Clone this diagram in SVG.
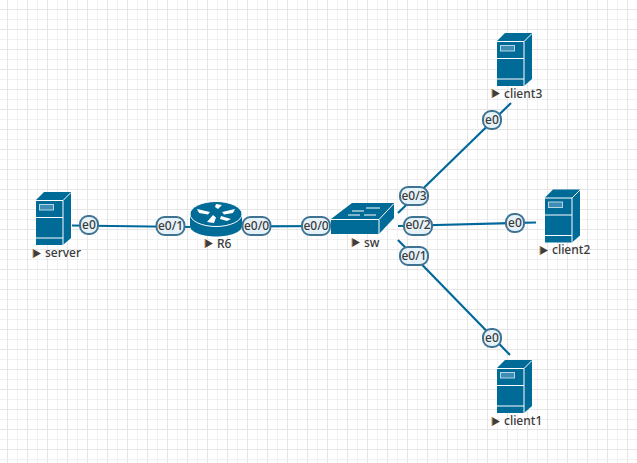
<svg xmlns="http://www.w3.org/2000/svg" width="637" height="463" viewBox="0 0 637 463">
<style>
text{font-family:"Noto Sans","Open Sans","Liberation Sans",sans-serif;font-size:12px;font-weight:500;fill:#3a3a3a}
.b{fill:#006b96}
.w{stroke:#fff;stroke-width:1;fill:none}
.lk{stroke:#00689a;stroke-width:2.2;fill:none}
.pill{fill:#e6f2f9;stroke:#3f7391;stroke-width:2}
.pt{text-anchor:middle}
.tri{fill:#3a3f44}
.or{stroke:#e8963c;stroke-width:1}
</style>
<defs>
<pattern id="g" width="10" height="10" patternUnits="userSpaceOnUse" x="7" y="9">
<path d="M0.5 0V10M0 0.5H10" stroke="#f1f1f1" stroke-width="1" fill="none"/>
</pattern>
<pattern id="G" width="20" height="20" patternUnits="userSpaceOnUse" x="7" y="9">
<path d="M0.5 0V20M0 0.5H20" stroke="#e6e6e6" stroke-width="1" fill="none"/>
</pattern>
<g id="srv">
<path class="b" d="M0 8L8 0H35V46L27 53H0Z"/>
<path class="w" d="M0 8.5H27V53M27 8.5L35 0.5M0 25.5H27M0 46H27"/>
<rect x="3.5" y="12.5" width="14" height="5.5" fill="#3d8db4" stroke="#b5d6e6" stroke-width="1"/>
</g>
<path id="mk" class="tri" d="M0 0L8 4.5L0 9Z"/>
</defs>
<rect width="637" height="463" fill="#fff"/>
<rect width="637" height="463" fill="url(#g)"/>
<rect width="637" height="463" fill="url(#G)"/>
<g id="connectors">
<path class="lk" d="M72 225.5L190 227"/>
<path class="lk" d="M242 226.500L331 226"/>
<path class="lk" d="M398 213L511 103"/>
<path class="lk" d="M398 226L536 222.500"/>
<path class="lk" d="M398 240L510 355"/>
</g>
<g id="server"><use href="#srv" x="36" y="192"/><use href="#mk" x="33" y="249"/><path class="or" d="M33 249V258"/><text x="45" y="257">server</text></g>
<g id="R6">
<path class="b" d="M190 214V226C190 232 202 236.500 216 236.500C230 236.500 242 232 242 226V214Z"/>
<ellipse cx="216" cy="214" rx="26" ry="12.500" class="b" stroke="#fff" stroke-width="1"/>
<path fill="#fff" d="M197 209L210 212L208 214.500L199 213ZM235 209L222 212L224 214.500L233 213ZM222 205L218 209L215 207L216 204ZM207 222L213 215L216 217.500L214 223Z"/>
<path fill="#fff" d="M221 216L231 219L227 221L220 219Z"/>
<use href="#mk" x="205" y="239"/><path class="or" d="M205 239V248"/><text x="217" y="248">R6</text>
</g>
<g id="sw">
<path class="b" d="M331 219L352 203H394V218L379 234H331Z"/>
<path class="w" d="M331 219.500H379V234M379 219.500L394 203.500"/>
<path fill="none" stroke="#fff" stroke-width="1.200" d="M352 211H364M366 208H380M348 215H360M364 215H376"/>
<use href="#mk" x="352" y="238"/><path class="or" d="M352 238V247"/><text x="364" y="247">sw</text>
</g>
<g id="client1"><use href="#srv" x="497" y="360"/><use href="#mk" x="492" y="417"/><path class="or" d="M492 417V426"/><text x="504" y="425">client1</text></g>
<g id="client2"><use href="#srv" x="545" y="189.500"/><use href="#mk" x="540" y="246"/><path class="or" d="M540 246V255"/><text x="552" y="254">client2</text></g>
<g id="client3"><use href="#srv" x="497" y="33"/><use href="#mk" x="492" y="89"/><path class="or" d="M492 89V98"/><text x="504" y="98">client3</text></g>
<g id="labels">
<rect class="pill" x="80" y="216" width="18" height="18" rx="8"/><text class="pt" x="89" y="229">e0</text>
<rect class="pill" x="156.500" y="217" width="28" height="18" rx="8"/><text class="pt" x="170.500" y="230">e0/1</text>
<rect class="pill" x="242.500" y="217" width="28" height="18" rx="8"/><text class="pt" x="256.500" y="230">e0/0</text>
<rect class="pill" x="302" y="217" width="28" height="18" rx="8"/><text class="pt" x="316" y="230">e0/0</text>
<rect class="pill" x="400" y="187" width="28" height="18" rx="8"/><text class="pt" x="414" y="200">e0/3</text>
<rect class="pill" x="404" y="217" width="28" height="18" rx="8"/><text class="pt" x="418" y="229">e0/2</text>
<rect class="pill" x="400" y="247" width="28" height="18" rx="8"/><text class="pt" x="414" y="260">e0/1</text>
<rect class="pill" x="506" y="214" width="18" height="18" rx="8"/><text class="pt" x="515" y="227">e0</text>
<rect class="pill" x="483" y="111" width="18" height="18" rx="8"/><text class="pt" x="492" y="124">e0</text>
<rect class="pill" x="483" y="329" width="18" height="18" rx="8"/><text class="pt" x="492" y="342">e0</text>
</g>
</svg>
